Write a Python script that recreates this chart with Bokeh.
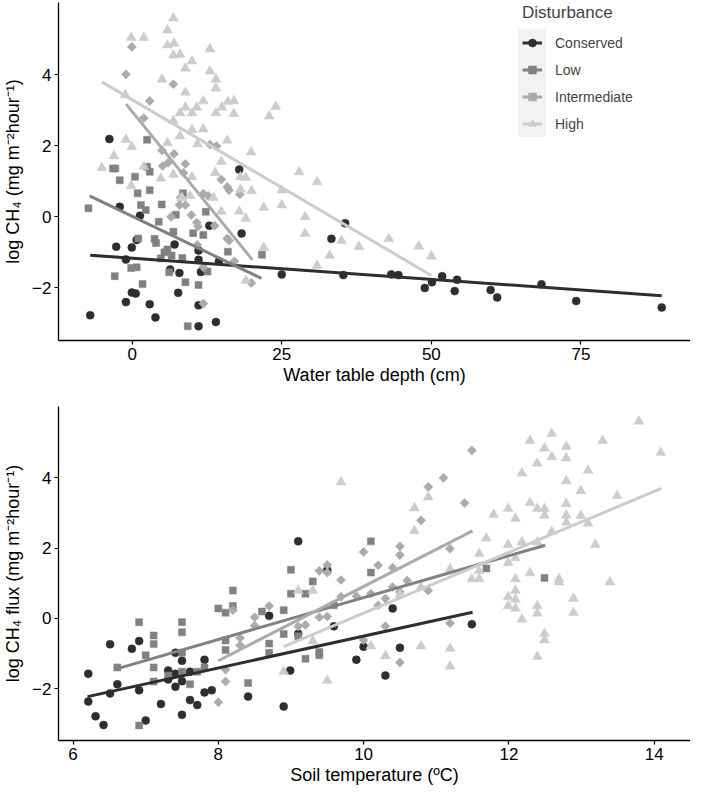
from math import pi
from bokeh.plotting import figure
from bokeh.models import Range1d, FixedTicker, Legend, LegendItem
from bokeh.layouts import column
from bokeh.embed import file_html
from bokeh.resources import INLINE

groups = ["Conserved", "Low", "Intermediate", "High"]
colors = ["#2E2E2E", "#818181", "#ABABAB", "#CCCCCC"]
markers = ["circle", "square", "square", "triangle"]
angles = [0, 0, pi / 4, 0]
sizes = [8, 7, 6.5, 10]

# ---------- Panel 1: water table depth (cm) vs log CH4 ----------
wt_conserved = [(-3.8, 2.19), (-2.07, 0.28), (1.31, 0.03), (0.76, -0.65), (-2.66, -0.84), (-0.05, -0.86),
                (-1.03, -1.20), (7.1, -0.78), (11.1, -0.95), (11.1, -1.21), (12.9, -0.25), (17.9, 1.33),
                (18.3, -0.47), (14.5, -1.25), (6.36, -1.48), (7.9, -1.58), (11.5, -1.55), (-0.05, -2.13),
                (0.6, -2.16), (-1.03, -2.40), (2.94, -2.46), (7.7, -2.14), (11.1, -2.49), (3.9, -2.83),
                (-7.0, -2.77), (11.1, -3.08), (14.0, -2.96), (25.0, -1.62), (33.3, -0.62), (35.6, -0.18),
                (35.3, -1.64), (43.3, -1.62), (44.5, -1.64), (48.9, -2.0), (50.1, -1.84), (51.8, -1.67),
                (54.3, -1.77), (53.9, -2.09), (59.9, -2.06), (61.0, -2.27), (68.4, -1.90), (74.2, -2.37),
                (88.5, -2.55)]
wt_low = [(-7.3, 0.24), (-3.2, 1.36), (-2.8, 1.36), (-2.07, 1.03), (0.49, 1.13), (2.5, 1.41), (2.94, 1.27),
          (2.5, 2.17), (0.93, 0.66), (2.94, 0.75), (1.47, 0.33), (2.28, 0.19), (4.95, 0.35), (7.3, 0.06),
          (4.45, -0.14), (6.9, -0.42), (1.03, -0.61), (3.75, -0.62), (4.0, -0.74), (8.5, 0.66), (12.3, 0.14),
          (10.2, -0.46), (11.9, -0.51), (5.9, -0.92), (5.4, -1.0), (6.6, -1.09), (4.8, -1.17), (8.4, -1.16),
          (-0.16, -1.44), (0.76, -1.42), (-2.9, -1.67), (6.2, -1.56), (12.6, -1.54), (8.9, -1.84),
          (1.74, -1.89), (11.1, -1.92), (9.3, -3.08), (16.0, -0.98), (21.7, -1.07)]
wt_intermediate = [(-0.05, 4.78), (-1.03, 4.01), (6.9, 3.73), (2.94, 3.26), (1.96, 2.78), (7.0, 1.77),
                   (5.0, 1.87), (13.0, 2.03), (14.1, 1.99), (5.1, 1.43), (6.0, 1.52), (8.9, 1.49), (8.6, 1.24),
                   (14.9, 1.05), (15.9, 0.84), (16.2, 0.75), (18.0, 0.63), (11.9, 0.65), (12.7, 0.59),
                   (8.1, 0.54), (7.9, 0.33), (8.9, 0.33), (9.9, 0.05), (10.8, -0.16), (11.0, -0.27),
                   (13.8, -0.25), (15.9, -0.61), (16.2, -0.67), (10.9, -0.79), (17.1, -1.25), (11.9, -1.42),
                   (19.9, -1.86), (11.9, -2.44), (6.5, 0.0)]
wt_high = [(6.9, 5.59), (5.9, 5.25), (-0.16, 5.04), (1.96, 5.04), (5.9, 4.83), (7.0, 4.88), (6.9, 4.55),
           (8.0, 4.57), (13.0, 4.72), (10.0, 4.38), (8.9, 4.18), (13.0, 4.10), (14.0, 3.87), (14.0, 3.62),
           (5.0, 3.87), (8.9, 3.50), (-1.14, 3.43), (11.9, 3.26), (16.0, 3.24), (17.0, 3.26), (15.0, 3.08),
           (8.9, 3.08), (10.8, 3.08), (8.0, 2.92), (10.0, 2.92), (14.0, 2.92), (17.0, 2.90), (6.9, 2.70),
           (10.0, 2.45), (11.9, 2.47), (8.0, 2.27), (10.9, 2.05), (15.9, 2.15), (5.9, 2.08), (-1.03, 2.17),
           (-0.05, 1.97), (19.9, 1.82), (-3.05, 1.71), (-5.06, 1.38), (14.9, 1.55), (1.96, 1.41), (19.0, 1.10),
           (18.1, 1.12), (13.9, 1.24), (10.0, 1.12), (6.9, 1.19), (4.8, 1.08), (-0.16, 0.87), (19.95, 0.73),
           (18.1, 0.77), (8.3, 0.54), (9.7, 0.59), (13.6, 0.54), (22.0, 0.26), (14.9, 0.15), (17.9, 0.15),
           (19.0, -0.05), (22.0, -0.87), (19.0, -1.79), (24.0, 3.10), (22.9, 2.83), (27.9, 1.26), (30.9, 0.98),
           (25.0, 0.75), (25.0, 0.33), (28.9, 0.0), (28.9, -0.47), (35.0, -0.67), (37.9, -0.84), (42.9, -0.62),
           (47.9, -0.83), (50.0, -1.11), (33.0, -1.09), (30.9, -1.37)]
# fitted linear trend per group: (x_start, y_start, x_end, y_end)
wt_fit = [(-7.0, -1.08, 88.5, -2.22), (-7.1, 0.59, 21.6, -1.73), (-1.0, 3.17, 20.1, -1.21), (-5.0, 3.79, 50.0, -1.65)]
wt_xticks = [0, 25, 50, 75]

# ---------- Panel 2: soil temperature (ºC) vs log CH4 flux ----------
st_conserved = [(6.21, -1.58), (6.21, -2.37), (6.31, -2.79), (6.42, -3.04), (6.51, -0.74), (6.51, -2.14),
                (6.61, -1.88), (6.81, -0.87), (6.91, -0.65), (6.91, -2.05), (7.0, -2.91), (7.21, -2.44),
                (7.31, -1.49), (7.31, -1.74), (7.41, -0.98), (7.41, -1.95), (7.41, -1.58), (7.5, -1.21),
                (7.5, -1.79), (7.5, -2.75), (7.61, -1.52), (7.61, -2.33), (7.71, -2.47), (7.81, -1.18),
                (7.81, -2.11), (7.91, -2.05), (8.41, -2.23), (8.7, 0.07), (8.9, -2.51), (8.99, -1.49),
                (9.1, 2.19), (9.1, -0.44), (9.5, 1.37), (9.59, -0.23), (10.4, 0.28), (10.0, -0.81),
                (10.5, -0.84), (9.9, -1.18), (10.3, -1.63), (11.49, -0.17)]
st_low = [(6.91, -0.11), (6.61, -1.40), (6.91, -3.05), (7.11, -0.49), (7.11, -0.73), (7.0, -1.05), (7.11, -1.40),
          (7.11, -1.80), (7.31, -1.63), (7.5, -0.11), (7.5, -0.40), (7.5, -0.98), (7.5, -1.52), (7.61, -1.88),
          (7.71, -1.52), (7.81, -1.40), (8.0, 0.28), (8.1, 0.16), (8.2, 0.79), (8.2, 0.35), (8.1, -0.63),
          (8.1, -0.90), (8.41, -1.84), (8.6, 0.19), (8.7, -0.72), (8.7, -0.98), (8.9, 0.23), (8.9, -0.45),
          (9.0, 1.38), (9.0, 0.70), (9.2, 0.70), (9.3, 1.05), (9.2, -1.15), (9.39, -0.96), (9.39, -1.05),
          (9.59, 0.37), (9.1, -0.51), (10.1, 2.19), (10.1, 1.30), (11.69, 1.42), (12.49, 1.15)]
st_intermediate = [(8.0, -2.39), (8.1, -1.80), (8.1, -1.46), (8.2, 0.23), (8.3, -0.56), (8.3, -0.77), (8.5, 0.03),
                   (8.5, -0.21), (8.7, 0.35), (9.1, -0.23), (9.2, -0.19), (9.39, 1.35), (9.5, 1.52), (9.5, 1.30),
                   (9.39, 0.03), (9.5, 0.05), (9.69, 1.09), (9.69, 0.61), (9.9, 0.63), (10.0, 1.89), (10.2, 1.51),
                   (10.1, 0.70), (10.3, 0.56), (10.4, 1.44), (10.5, 2.05), (10.5, 1.80), (10.4, 0.89), (10.6, 1.07),
                   (10.5, 0.75), (10.2, 0.37), (10.3, -0.23), (10.0, -0.62), (10.5, -1.26), (10.79, 2.79),
                   (10.89, 3.74), (11.1, 4.0), (10.89, 0.79), (11.19, 1.98), (11.19, -0.14), (11.39, 3.28),
                   (11.49, 4.78)]
st_high = [(9.69, 3.88), (9.1, 0.79), (9.3, 0.79), (8.9, -1.52), (9.3, -0.65), (9.5, -1.77), (10.7, 3.14),
           (10.89, 3.45), (10.7, 2.49), (10.79, 0.89), (10.5, 0.68), (10.1, -0.79), (10.79, -0.79), (10.3, -1.07),
           (11.19, 1.40), (11.19, -0.86), (11.19, -1.37), (11.49, 1.12), (11.59, 1.12), (11.59, 1.84),
           (11.59, 1.35), (11.69, 2.28), (11.79, 2.95), (11.99, 3.12), (12.09, 2.84), (12.18, 4.13), (11.99, 2.1),
           (11.99, 1.58), (12.09, 1.72), (12.18, 2.17), (12.09, 1.12), (11.99, 0.61), (12.09, 0.79), (12.09, 0.54),
           (11.99, 0.35), (12.09, 0.28), (12.18, -0.03), (12.29, 5.06), (12.39, 4.41), (12.29, 3.29),
           (12.39, 3.12), (12.49, 3.12), (12.49, 2.93), (12.39, 2.17), (12.29, 1.29), (12.39, 0.35),
           (12.39, 0.14), (12.39, -1.09), (12.49, 4.84), (12.59, 5.26), (12.59, 4.59), (12.59, 2.47),
           (12.49, -0.44), (12.49, -0.62), (12.69, 1.12), (12.69, 1.03), (12.79, 4.89), (12.79, 4.56),
           (12.79, 3.91), (12.79, 3.26), (12.79, 2.93), (12.79, 2.73), (12.89, 0.56), (12.89, 0.16),
           (12.99, 3.63), (12.99, 2.92), (13.09, 4.21), (13.09, 2.70), (13.19, 2.1), (13.29, 5.06),
           (13.39, 1.03), (13.49, 3.49), (13.79, 5.61), (14.09, 4.72)]
st_fit = [(6.2, -2.23, 11.5, 0.17), (6.6, -1.44, 12.5, 2.08), (8.0, -1.21, 11.5, 2.49), (8.9, -0.81, 14.1, 3.70)]
st_xticks = [6, 8, 10, 12, 14]

y_ticks = [-2, 0, 2, 4]
FONT = "Liberation Sans"


def style(p, xticks, xlabel, ylabel):
    p.xaxis.ticker = FixedTicker(ticks=xticks)
    p.yaxis.ticker = FixedTicker(ticks=y_ticks)
    p.xaxis.axis_label = xlabel
    p.yaxis.axis_label = ylabel
    for ax in (p.xaxis[0], p.yaxis[0]):
        ax.axis_line_color = "black"
        ax.axis_line_width = 1.3
        ax.major_tick_line_color = "black"
        ax.major_tick_line_width = 1.2
        ax.major_tick_out = 4
        ax.major_tick_in = 0
        ax.minor_tick_line_color = None
        ax.major_label_text_font = FONT
        ax.major_label_text_font_size = "17px"
        ax.major_label_text_color = "black"
        ax.axis_label_text_font = FONT
        ax.axis_label_text_font_size = "18px"
        ax.axis_label_text_font_style = "normal"
        ax.axis_label_text_color = "black"
        ax.major_label_standoff = 3
    p.xaxis.axis_label_standoff = 2
    p.yaxis.axis_label_standoff = 6
    p.xgrid.visible = False
    p.ygrid.visible = False
    p.outline_line_color = None
    p.background_fill_color = "white"
    p.border_fill_color = "white"


def draw(p, datasets, fits):
    scat, lines = [], []
    for i, pts in enumerate(datasets):
        xs = [a for a, b in pts]
        ys = [b for a, b in pts]
        scat.append(p.scatter(xs, ys, marker=markers[i], size=sizes[i], angle=angles[i],
                              fill_color=colors[i], line_color=colors[i], line_width=0.5))
    for i, (x0, y0, x1, y1) in enumerate(fits):
        lines.append(p.line([x0, x1], [y0, y1], line_color=colors[i], line_width=3))
    return scat, lines


p1 = figure(width=690, height=398, x_range=Range1d(-12.3, 93.3), y_range=Range1d(-3.48, 6.03),
            output_backend="svg", toolbar_location=None,
            min_border_top=2, min_border_left=50, min_border_right=0, min_border_bottom=58)
style(p1, wt_xticks, "Water table depth (cm)", "log CH\u2084 (mg m\u207b\u00b2hour\u207b\u00b9)")
s1, l1 = draw(p1, [wt_conserved, wt_low, wt_intermediate, wt_high], wt_fit)

# grey key background (legend with blank item) + real legend on top
dummy = p1.line([], [], line_alpha=0)
key_bg = Legend(items=[LegendItem(label="", renderers=[dummy])], glyph_width=28, glyph_height=108,
                label_width=0, label_height=0, label_standoff=0, padding=0, margin=0, spacing=0,
                background_fill_color="#F2F2F2", background_fill_alpha=1, border_line_color=None,
                location=(460, 203))
legend = Legend(items=[LegendItem(label=g, renderers=[l1[i], s1[i]]) for i, g in enumerate(groups)],
                title="Disturbance", title_text_font=FONT, title_text_font_size="17px",
                title_text_font_style="normal", title_standoff=6,
                label_text_font=FONT, label_text_font_size="14px", label_standoff=13,
                glyph_width=20, glyph_height=27, label_height=27, spacing=0, padding=0, margin=0,
                border_line_color=None, background_fill_alpha=0, location=(464, 203))
p1.add_layout(key_bg, "center")
p1.add_layout(legend, "center")

p2 = figure(width=690, height=390, x_range=Range1d(5.8, 14.5), y_range=Range1d(-3.48, 6.03),
            output_backend="svg", toolbar_location=None,
            min_border_top=8, min_border_left=50, min_border_right=0, min_border_bottom=48)
style(p2, st_xticks, "Soil temperature (\u00baC)", "log CH\u2084 flux (mg m\u207b\u00b2hour\u207b\u00b9)")
draw(p2, [st_conserved, st_low, st_intermediate, st_high], st_fit)

layout = column(p1, p2, spacing=0)
open("out.html", "w").write(file_html(layout, INLINE))
